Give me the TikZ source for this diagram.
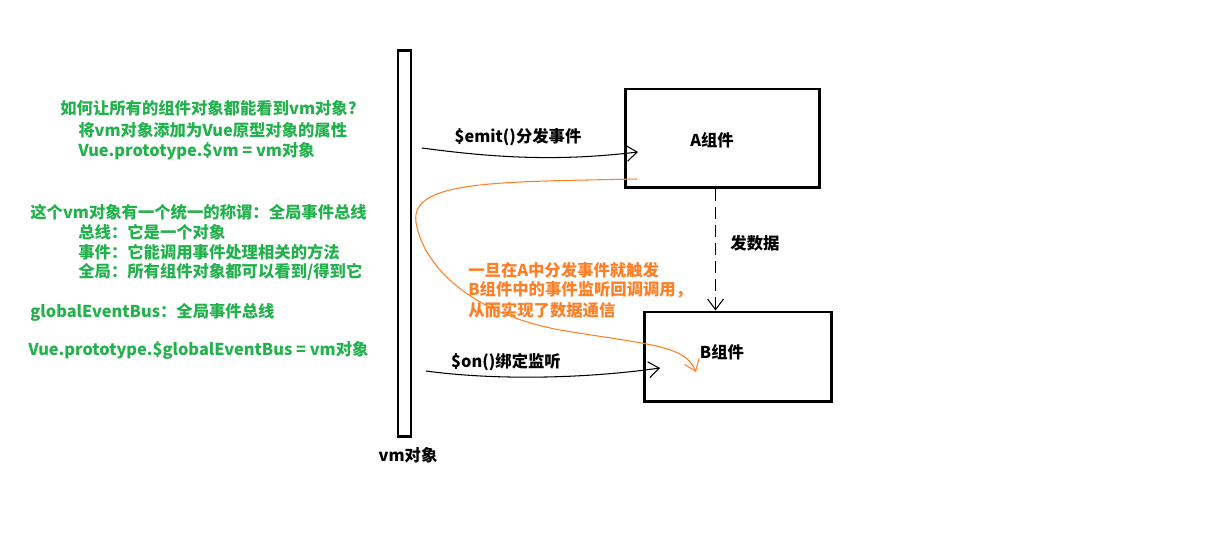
\documentclass[tikz,border=0pt]{standalone}
\usepackage{fontspec}
\setmainfont{Noto Sans CJK SC}
\usetikzlibrary{positioning}
\usetikzlibrary{arrows.meta}
\definecolor{paintgreen}{RGB}{34,177,76}
\definecolor{paintorange}{RGB}{255,127,39}

\tikzset{
  note/.style={anchor=west, inner sep=0pt, font=\fontsize{9.3}{11}\selectfont\bfseries},
  greennote/.style={note, text=paintgreen},
  orangenote/.style={note, text=paintorange},
  blacknote/.style={inner sep=0pt, font=\fontsize{9.3}{11}\selectfont\bfseries},
  compbox/.style={draw, line width=1.7pt, inner sep=0pt},
  conn/.style={line width=0.6pt, -{Straight Barb[length=6pt,width=9pt]}}
}

\begin{document}
\begin{tikzpicture}[x=0.02cm, y=-0.02cm]
            \useasboundingbox (0,0) rectangle (1231,536);

            % the vm object bar and the two components
            \node[compbox, minimum width=0.26cm, minimum height=7.74cm] (vmbar) at (404.5,243.5) {};
            \node[blacknote] (vmname) at (408,455) {vm对象};
            \node[compbox, minimum width=3.9cm, minimum height=1.98cm] (A) at (722.5,138.5) {};
            \node[blacknote] (Aname) at (712,140) {A组件};
            \node[compbox, minimum width=3.76cm, minimum height=1.8cm] (B) at (738,357) {};
            \node[blacknote] (Bname) at (722,352) {B组件};

            % green notes
            \node[greennote] (q1) at (60,108) {如何让所有的组件对象都能看到vm对象?};
            \node[greennote] (q2) at (78,130) {将vm对象添加为Vue原型对象的属性};
            \node[greennote] (q3) at (78,151) {Vue.prototype.\$vm = vm对象};
            \node[greennote] (b1) at (30,212) {这个vm对象有一个统一的称谓：全局事件总线};
            \node[greennote] (b2) at (78,232) {总线：它是一个对象};
            \node[greennote] (b3) at (78,252) {事件：它能调用事件处理相关的方法};
            \node[greennote] (b4) at (78,272) {全局：所有组件对象都可以看到/得到它};
            \node[greennote] (g1) at (30,312) {globalEventBus：全局事件总线};
            \node[greennote] (g2) at (28,350) {Vue.prototype.\$globalEventBus = vm对象};

            % orange notes
            \node[orangenote] (o1) at (468,270) {一旦在A中分发事件就触发};
            \node[orangenote] (o2) at (468,290) {B组件中的事件监听回调调用，};
            \node[orangenote] (o3) at (468,310) {从而实现了数据通信};

            % connector ends
            \coordinate (emitfrom) at (422,148);
            \coordinate (emitto) at (638,152);
            \coordinate (onfrom) at (426,371);
            \coordinate (onto) at (660,368);
            \coordinate (busfrom) at (637,179);
            \coordinate (busto) at (696,372);

            \draw[conn] (emitfrom) .. controls (510,160) and (570,160) .. (emitto);
            \node[blacknote] (emitlabel) at (518,137) {\$emit()分发事件};
            \draw[conn] (onfrom) .. controls (500,381) and (590,378) .. (onto);
            \node[blacknote] (onlabel) at (506,362) {\$on()绑定监听};
            \draw[conn, dash pattern=on 6.8pt off 3.4pt] ([xshift=-0.14cm]A.south) -- ([xshift=-0.14cm]A.south |- B.north);
            \node[blacknote] (sendlabel) at (755,243) {发数据};
            \draw[conn, paintorange] (busfrom) .. controls (500,182) and (410,180) .. (416,222)
                .. controls (422,262) and (465,312) .. (560,330)
                .. controls (650,345) and (685,345) .. (busto);
        \end{tikzpicture}
\end{document}
